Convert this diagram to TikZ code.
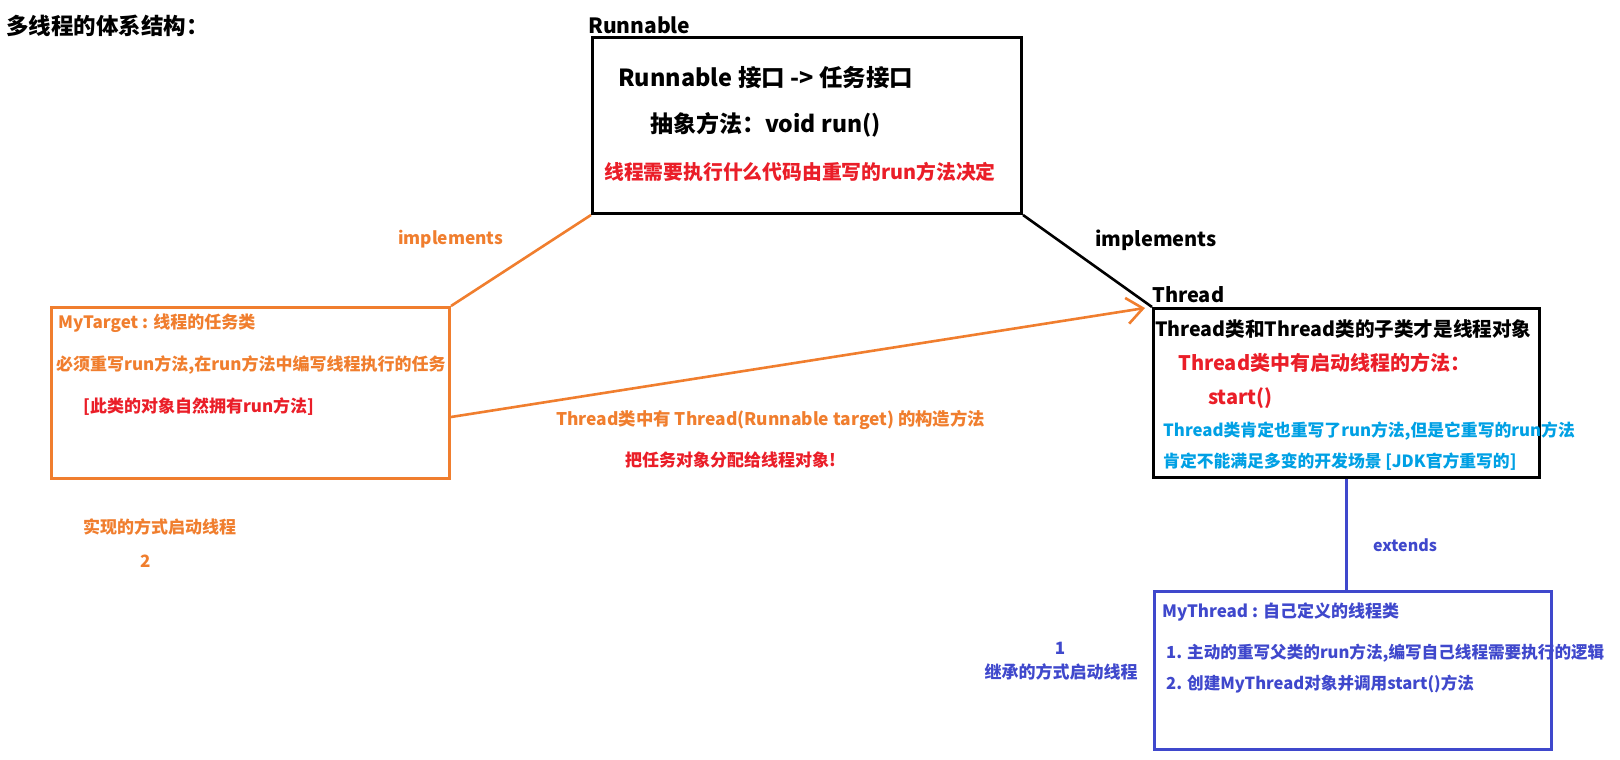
\documentclass[tikz,border=0pt]{standalone}
\usepackage{fontspec}
\setmainfont{Noto Sans CJK SC}
\usepackage{tikz}
\usetikzlibrary{arrows.meta}
\definecolor{taskorange}{RGB}{240,126,46}
\definecolor{alertred}{RGB}{234,30,40}
\definecolor{notecyan}{RGB}{0,160,228}
\definecolor{extindigo}{RGB}{63,72,204}
\newcommand{\fsz}[1]{\fontsize{#1}{#1}\selectfont\bfseries}

\begin{document}
\begin{tikzpicture}[
  x=1pt, y=-1pt,
  every node/.style={inner sep=0pt},
  lbl/.style={anchor=west},
  classbox/.style={draw, line width=3pt, anchor=north west},
  link/.style={line width=2.6pt}
]
  \useasboundingbox (0,0) rectangle (1620,760);

  \node[lbl, font=\fsz{22.5}] (title) at (6,26) {多线程的体系结构：};

  \node[classbox, minimum width=429pt, minimum height=176pt] (runnable) at (591,36) {};
  \node[lbl, font=\fsz{21}] (runnablename) at (588,25) {Runnable};
  \node[lbl, font=\fsz{23.5}] (r1) at (618,78) {Runnable 接口 -> 任务接口};
  \node[lbl, font=\fsz{23}] (r2) at (650,125) {抽象方法：void run()};
  \node[lbl, alertred, font=\fsz{19.8}] (r3) at (604,172) {线程需要执行什么代码由重写的run方法决定};

  \node[classbox, minimum width=386pt, minimum height=169pt] (thread) at (1152,307) {};
  \node[lbl, font=\fsz{20}] (threadname) at (1152,295) {Thread};
  \node[lbl, font=\fsz{19.6}] (t1) at (1155,329) {Thread类和Thread类的子类才是线程对象};
  \node[lbl, alertred, font=\fsz{20}] (t2) at (1178,363) {Thread类中有启动线程的方法：};
  \node[lbl, alertred, font=\fsz{20}] (t3) at (1208,398) {start()};
  \node[lbl, notecyan, font=\fsz{16.8}] (t4) at (1163,431) {Thread类肯定也重写了run方法,但是它重写的run方法};
  \node[lbl, notecyan, font=\fsz{16.8}] (t5) at (1163,462) {肯定不能满足多变的开发场景 [JDK官方重写的]};

  \node[classbox, draw=taskorange, minimum width=398pt, minimum height=171pt] (mytarget) at (50,306) {};
  \node[lbl, taskorange, font=\fsz{17}] (m1) at (58,323) {MyTarget : 线程的任务类};
  \node[lbl, taskorange, font=\fsz{17}] (m2) at (56,365) {必须重写run方法,在run方法中编写线程执行的任务};
  \node[lbl, alertred, font=\fsz{17}] (m3) at (83,407) {[此类的对象自然拥有run方法]};
  \node[lbl, taskorange, font=\fsz{17}] (way2) at (83,527) {实现的方式启动线程};
  \node[lbl, taskorange, font=\fsz{17}] (num2) at (140,561) {2};

  \node[classbox, draw=extindigo, minimum width=397pt, minimum height=158pt] (mythread) at (1153,590) {};
  \node[lbl, extindigo, font=\fsz{17}] (s1) at (1162,612) {MyThread : 自己定义的线程类};
  \node[lbl, extindigo, font=\fsz{16.6}] (s2) at (1166,653) {1. 主动的重写父类的run方法,编写自己线程需要执行的逻辑};
  \node[lbl, extindigo, font=\fsz{16.6}] (s3) at (1166,684) {2. 创建MyThread对象并调用start()方法};
  \node[extindigo, font=\fsz{17}] (num1) at (1060,648) {1};
  \node[extindigo, font=\fsz{17}] (way1) at (1061,672) {继承的方式启动线程};

  \draw[link, taskorange] (runnable.south west) -- (mytarget.north east);
  \draw[link] (runnable.south east) -- (thread.north west);
  \draw[link, taskorange, -{Straight Barb[length=16pt, width=26pt]}]
    ([yshift=-111pt]mytarget.north east) -- ([xshift=-7pt, yshift=-1pt]thread.north west);
  \draw[link, extindigo] (thread.south) -- (thread.south |- mythread.north);

  \node[lbl, taskorange, font=\fsz{17.3}] (impl1) at (398,239) {implements};
  \node[lbl, font=\fsz{20}] (impl2) at (1095,240) {implements};
  \node[lbl, taskorange, font=\fsz{17.4}] (ctor) at (556,420) {Thread类中有 Thread(Runnable target) 的构造方法};
  \node[lbl, alertred, font=\fsz{17}] (assign) at (625,460) {把任务对象分配给线程对象!};
  \node[lbl, extindigo, font=\fsz{16}] (ext) at (1373,545) {extends};
\end{tikzpicture}
\end{document}
